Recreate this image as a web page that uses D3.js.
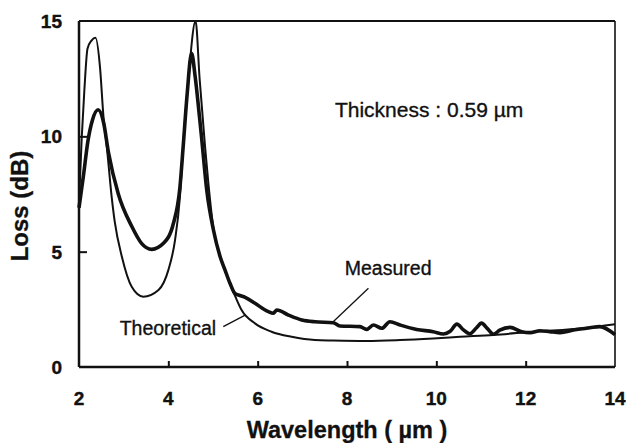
<!DOCTYPE html>
<html>
<head>
<meta charset="utf-8">
<script src="https://cdn.jsdelivr.net/npm/d3@7"></script>
<style>
  body { margin: 0; background: #fff; }
  svg text { font-family: "Liberation Sans", Arial, Helvetica, sans-serif; fill: #111; }
</style>
</head>
<body>
<svg id="chart" width="626" height="443"></svg>
<script>
// Data (wavelength in um, loss in dB)
const theoX = [2.0, 2.06, 2.12, 2.19, 2.28, 2.37, 2.47, 2.55, 2.62, 2.73, 2.8, 2.96, 3.18, 3.44, 3.78, 4.0, 4.15, 4.26, 4.33, 4.45, 4.61, 4.7, 4.82, 4.9, 5.01, 5.16, 5.27, 5.38, 5.49, 5.64, 5.94, 6.31, 6.76, 7.28, 7.69, 8.44, 9.19, 9.93, 10.53, 11.28, 12.17, 13.29, 14.0];
const theoY = [7.1, 9.9, 12.0, 13.8, 14.15, 14.27, 13.0, 10.8, 9.6, 7.4, 6.3, 4.78, 3.48, 3.05, 3.34, 4.2, 5.5, 7.38, 9.55, 12.5, 15.0, 12.5, 9.6, 7.9, 6.0, 4.8, 4.2, 3.6, 3.1, 2.47, 1.89, 1.53, 1.31, 1.17, 1.15, 1.13, 1.17, 1.24, 1.31, 1.39, 1.53, 1.68, 1.85];

const measX = [2.0, 2.1, 2.2, 2.3, 2.43, 2.55, 2.66, 2.88, 3.18, 3.4, 3.63, 3.89, 4.11, 4.26, 4.33, 4.42, 4.52, 4.6, 4.7, 4.75, 4.86, 5.01, 5.16, 5.27, 5.38, 5.49, 5.6, 5.72, 5.94, 6.24, 6.35, 6.43, 6.69, 6.99, 7.28, 7.69, 7.84, 8.29, 8.44, 8.59, 8.78, 8.96, 9.19, 9.56, 9.93, 10.16, 10.31, 10.46, 10.6, 10.75, 10.9, 11.01, 11.15, 11.28, 11.42, 11.65, 11.91, 12.1, 12.32, 12.54, 12.77, 13.07, 13.44, 13.66, 14.0];
const measY = [6.9, 8.3, 9.8, 10.7, 11.15, 10.6, 9.3, 7.5, 6.1, 5.36, 5.1, 5.36, 6.2, 7.8, 9.5, 11.8, 13.6, 12.6, 10.8, 9.84, 7.67, 5.94, 4.78, 4.2, 3.63, 3.19, 3.1, 3.02, 2.76, 2.4, 2.33, 2.47, 2.25, 2.04, 1.96, 1.92, 1.78, 1.75, 1.63, 1.82, 1.68, 1.96, 1.82, 1.63, 1.53, 1.43, 1.55, 1.86, 1.62, 1.44, 1.7, 1.9, 1.65, 1.42, 1.6, 1.72, 1.53, 1.49, 1.57, 1.53, 1.49, 1.6, 1.7, 1.75, 1.4];

const xTicks = [2, 4, 6, 8, 10, 12, 14];
const yTicks = [0, 5, 10, 15];

const margin = { top: 21, right: 11, bottom: 76, left: 79 };
const width = 626, height = 443;

const svg = d3.select("#chart");
const x = d3.scaleLinear().domain([2, 14]).range([margin.left, width - margin.right]);
const y = d3.scaleLinear().domain([0, 15]).range([height - margin.bottom, margin.top]);

const line = d3.line()
    .x(d => x(d[0]))
    .y(d => y(d[1]))
    .curve(d3.curveMonotoneX);

// curves
svg.append("path")
    .datum(d3.zip(theoX, theoY))
    .attr("d", line)
    .attr("fill", "none")
    .attr("stroke", "#111")
    .attr("stroke-width", 2);

svg.append("path")
    .datum(d3.zip(measX, measY))
    .attr("d", line)
    .attr("fill", "none")
    .attr("stroke", "#111")
    .attr("stroke-width", 3.6)
    .attr("stroke-linejoin", "round");

// frame
const x0 = x(2), x1 = x(14), y0 = y(0), y1 = y(15);
const frame = svg.append("g").attr("stroke", "#111").attr("fill", "none");
frame.append("line").attr("x1", x0).attr("x2", x0).attr("y1", y1).attr("y2", y0).attr("stroke-width", 2.5);
frame.append("line").attr("x1", x0).attr("x2", x1).attr("y1", y0).attr("y2", y0).attr("stroke-width", 2.5);
frame.append("line").attr("x1", x0).attr("x2", x1).attr("y1", y1).attr("y2", y1).attr("stroke-width", 2.2);
frame.append("line").attr("x1", x1).attr("x2", x1).attr("y1", y1).attr("y2", y0).attr("stroke-width", 1.6);

// inward ticks
const xAxis = d3.axisBottom(x).tickValues(xTicks.slice(1, -1)).tickSize(-6).tickFormat("");
svg.append("g").attr("transform", `translate(0,${y0})`).call(xAxis)
    .call(g => g.select(".domain").remove())
    .call(g => g.selectAll("line").attr("stroke", "#111").attr("stroke-width", 2));
const yAxis = d3.axisLeft(y).tickValues(yTicks.slice(1, -1)).tickSize(-8).tickFormat("");
svg.append("g").attr("transform", `translate(${x0},0)`).call(yAxis)
    .call(g => g.select(".domain").remove())
    .call(g => g.selectAll("line").attr("stroke", "#111").attr("stroke-width", 2));

// tick labels
svg.append("g").selectAll("text").data(xTicks).join("text")
    .attr("x", d => x(d)).attr("y", y0 + 38)
    .attr("text-anchor", "middle")
    .attr("font-size", 19).attr("font-weight", "bold")
    .attr("stroke", "#111").attr("stroke-width", 0.4)
    .text(d => d);
svg.append("g").selectAll("text").data(yTicks).join("text")
    .attr("x", x0 - 17).attr("y", d => y(d) + 7)
    .attr("text-anchor", "end")
    .attr("font-size", 19).attr("font-weight", "bold")
    .attr("stroke", "#111").attr("stroke-width", 0.4)
    .text(d => d);

// axis titles
svg.append("text")
    .attr("x", (x0 + x1) / 2).attr("y", 438)
    .attr("text-anchor", "middle")
    .attr("font-size", 23.5).attr("font-weight", "bold")
    .attr("stroke", "#111").attr("stroke-width", 0.3)
    .text("Wavelength ( \u00b5m )");
svg.append("text")
    .attr("transform", `translate(28,${(y0 + y1) / 2 + 12}) rotate(-90)`)
    .attr("text-anchor", "middle")
    .attr("font-size", 24).attr("font-weight", "bold")
    .attr("stroke", "#111").attr("stroke-width", 0.3)
    .text("Loss (dB)");

// annotations
svg.append("text")
    .attr("x", x(7.73)).attr("y", y(10.84))
    .attr("font-size", 21)
    .attr("stroke", "#111").attr("stroke-width", 0.35)
    .text("Thickness : 0.59 \u00b5m");
svg.append("text")
    .attr("x", x(7.95)).attr("y", y(3.99))
    .attr("font-size", 19.5)
    .attr("stroke", "#111").attr("stroke-width", 0.35)
    .text("Measured");
svg.append("text")
    .attr("x", x(5.07)).attr("y", y(1.39))
    .attr("text-anchor", "end")
    .attr("font-size", 19.5)
    .attr("stroke", "#111").attr("stroke-width", 0.35)
    .text("Theoretical");

svg.append("line")
    .attr("x1", x(8.48)).attr("y1", y(3.41)).attr("x2", x(7.65)).attr("y2", y(1.89))
    .attr("stroke", "#111").attr("stroke-width", 1.3);
svg.append("line")
    .attr("x1", x(5.23)).attr("y1", y(1.75)).attr("x2", x(5.72)).attr("y2", y(2.25))
    .attr("stroke", "#111").attr("stroke-width", 1.3);
</script>
</body>
</html>
